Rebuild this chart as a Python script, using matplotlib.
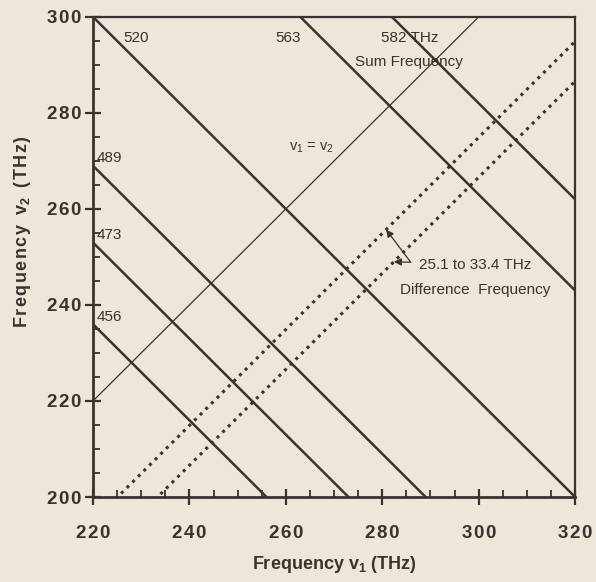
import numpy as np
import matplotlib
matplotlib.use("Agg")
import matplotlib.pyplot as plt
from matplotlib.ticker import MultipleLocator, FuncFormatter

# sum-frequency lines (THz): v1 + v2 = s
sum_freqs = [456, 473, 489, 520, 563, 582]
# difference-frequency lines (THz): v1 - v2 = d
diff_freqs = [25.1, 33.4]
x_ticks = [220, 240, 260, 280, 300, 320]
y_ticks = [200, 220, 240, 260, 280, 300]

ink = "#3a3230"
bg = "#ece7d9"
hs = "\u200a"  # hair space for the letter-spaced look

plt.rcParams["font.family"] = ["Liberation Sans", "DejaVu Sans"]
plt.rcParams["mathtext.default"] = "regular"

fig = plt.figure(figsize=(5.96, 5.82), dpi=100, facecolor=bg)
ax = fig.add_axes([0.156, 0.146, 0.809, 0.825], facecolor=bg)

xx = np.array([220.0, 320.0])
for s in sum_freqs:
    ax.plot(xx, s - xx, color=ink, lw=1.8, solid_capstyle="butt")
for d in diff_freqs:
    ax.plot(xx, xx - d, color=ink, lw=2.2, linestyle=(0, (1, 1.6)))
# v1 = v2
ax.plot(xx, xx, color=ink, lw=0.9)

ax.set_xlim(220, 320)
ax.set_ylim(200, 300)

# labels for the sum lines
fs = 11
ax.text(226.2, 295.7, "520", fontsize=fs, color=ink, ha="left", va="center")
ax.text(260.5, 295.7, "563", fontsize=fs, color=ink, ha="center", va="center")
ax.text(285.8, 295.7, "582 THz", fontsize=fs, color=ink, ha="center", va="center")
ax.text(285.6, 290.5, "Sum Frequency", fontsize=fs, color=ink, ha="center", va="center")
for s in [489, 473, 456]:
    ax.text(220.8, s - 220 + 0.1, str(s), fontsize=fs, color=ink, ha="left", va="bottom")

ax.text(265.3, 272.8, r"v$_1$ = v$_2$", fontsize=10.5, color=ink, ha="center", va="center")

ax.text(299.2, 248.3, "25.1 to 33.4 THz", fontsize=fs, color=ink, ha="center", va="center")
ax.text(299.2, 243.1, "Difference  Frequency", fontsize=fs, color=ink, ha="center", va="center")
for d, tip_x in zip(diff_freqs, [280.8, 282.4]):
    ax.annotate("", xy=(tip_x, tip_x - d), xytext=(285.9, 248.9),
                arrowprops=dict(arrowstyle="-|>", color=ink, lw=0.9,
                                mutation_scale=11, shrinkA=0, shrinkB=0))

for side in ["left", "bottom", "top", "right"]:
    ax.spines[side].set_color(ink)
    ax.spines[side].set_linewidth(2.0)
ax.spines["top"].set_linewidth(1.6)
ax.spines["right"].set_linewidth(1.6)

ax.set_xticks(x_ticks)
ax.set_yticks(y_ticks)
ax.xaxis.set_minor_locator(MultipleLocator(5))
ax.yaxis.set_minor_locator(MultipleLocator(5))
spaced = FuncFormatter(lambda v, pos: hs.join(str(int(v))))
ax.xaxis.set_major_formatter(spaced)
ax.yaxis.set_major_formatter(spaced)
ax.tick_params(which="major", direction="inout", length=12, width=1.6, color=ink,
               labelsize=13.5, labelcolor=ink, pad=2)
ax.tick_params(which="minor", direction="in", length=5, width=1.3, color=ink)
ax.tick_params(axis="x", which="major", pad=14)
for lab in ax.get_xticklabels() + ax.get_yticklabels():
    lab.set_fontweight("bold")

ax.set_xlabel(r"Frequency v$_1$ (THz)", fontsize=13, fontweight="bold", color=ink)
ax.xaxis.set_label_coords(0.5, -0.118)
ylab = hs.join("Frequency") + "  v$_2$  " + hs.join("(THz)")
ax.set_ylabel(ylab, fontsize=13, fontweight="bold", color=ink)
ax.yaxis.set_label_coords(-0.125, 0.552)

fig.savefig("out.png", dpi=100, facecolor=bg)
